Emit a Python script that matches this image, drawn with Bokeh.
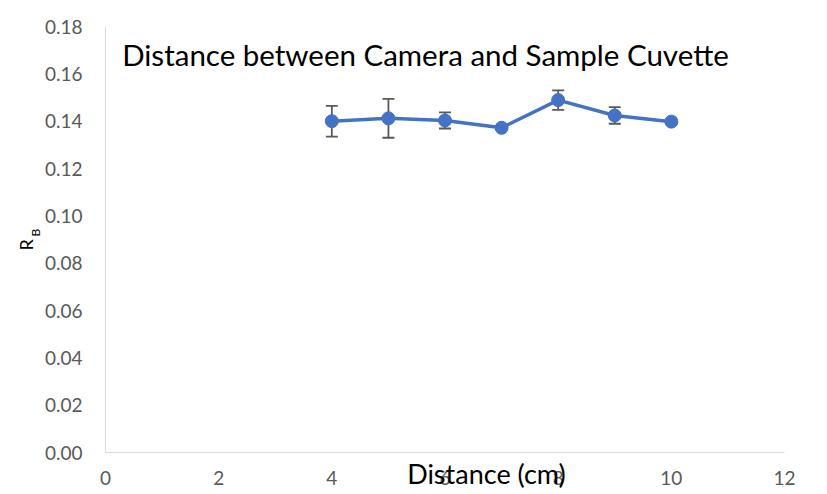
from bokeh.plotting import figure
from bokeh.models import ColumnDataSource, Whisker, TeeHead, Label, FixedTicker, NumeralTickFormatter, Title
from bokeh.embed import file_html
from bokeh.resources import INLINE

distance = [4, 5, 6, 7, 8, 9, 10]
rb = [0.1400, 0.1412, 0.1403, 0.1372, 0.1489, 0.1424, 0.1398]
rb_err = [0.0065, 0.0082, 0.0034, 0.0008, 0.0041, 0.0035, 0.0008]
x_ticks = [0, 2, 4, 6, 8, 10, 12]
y_ticks = [0.00, 0.02, 0.04, 0.06, 0.08, 0.10, 0.12, 0.14, 0.16, 0.18]
title_text = "Distance between Camera and Sample Cuvette"
x_title = "Distance (cm)"

FONT = "Lato"
BLUE = "#4472C4"
GREY = "#595959"
AXIS = "#D9D9D9"

src = ColumnDataSource(data=dict(
    x=distance, y=rb,
    upper=[v + e for v, e in zip(rb, rb_err)],
    lower=[v - e for v, e in zip(rb, rb_err)],
))

p = figure(width=827, height=494, output_backend="svg", toolbar_location=None,
           x_range=(0, 12), y_range=(0, 0.18),
           min_border_left=105, min_border_right=43, min_border_top=26, min_border_bottom=42)
p.outline_line_color = None
p.background_fill_color = "white"
p.border_fill_color = "white"
p.xgrid.visible = False
p.ygrid.visible = False

for ax in (p.xaxis[0], p.yaxis[0]):
    ax.axis_line_color = AXIS
    ax.axis_line_width = 1
    ax.major_tick_line_color = None
    ax.minor_tick_line_color = None
    ax.major_tick_out = 0
    ax.major_tick_in = 0
    ax.major_label_text_font = FONT
    ax.major_label_text_font_size = "19px"
    ax.major_label_text_color = GREY

p.xaxis.ticker = FixedTicker(ticks=x_ticks)
p.yaxis.ticker = FixedTicker(ticks=y_ticks)
p.yaxis.formatter = NumeralTickFormatter(format="0.00")
p.xaxis.major_label_standoff = 18
p.yaxis.major_label_standoff = 23

# x-axis title, overlapping the tick labels as in the reference
p.xaxis.axis_label = "\u00a0" * 12 + x_title
p.xaxis.axis_label_standoff = -31
p.xaxis.axis_label_text_font = FONT
p.xaxis.axis_label_text_font_size = "27px"
p.xaxis.axis_label_text_font_style = "normal"
p.xaxis.axis_label_text_color = "black"

w = Whisker(source=src, base="x", upper="upper", lower="lower",
            line_color=GREY, line_width=1.8,
            upper_head=TeeHead(size=12, line_color=GREY, line_width=1.8),
            lower_head=TeeHead(size=12, line_color=GREY, line_width=1.8),
            level="underlay")
p.add_layout(w)

p.line("x", "y", source=src, line_color=BLUE, line_width=3.5)
p.scatter("x", "y", source=src, size=13, fill_color=BLUE, line_color=BLUE)

p.add_layout(Label(x=5.655, y=0.1681, text=title_text, text_align="center",
                   text_baseline="middle", text_font=FONT, text_font_size="29.5px",
                   text_color="black"))

# y-axis title R with subscript B
p.add_layout(Title(text="B", align="left", vertical_align="top", offset=216, standoff=-7,
                   text_font=FONT, text_font_size="12px", text_font_style="normal",
                   text_color="black"), "left")
p.add_layout(Title(text="R", align="left", vertical_align="bottom", offset=202, standoff=-10,
                   text_font=FONT, text_font_size="18px", text_font_style="normal",
                   text_color="black"), "left")

open("out.html", "w").write(file_html(p, INLINE))
